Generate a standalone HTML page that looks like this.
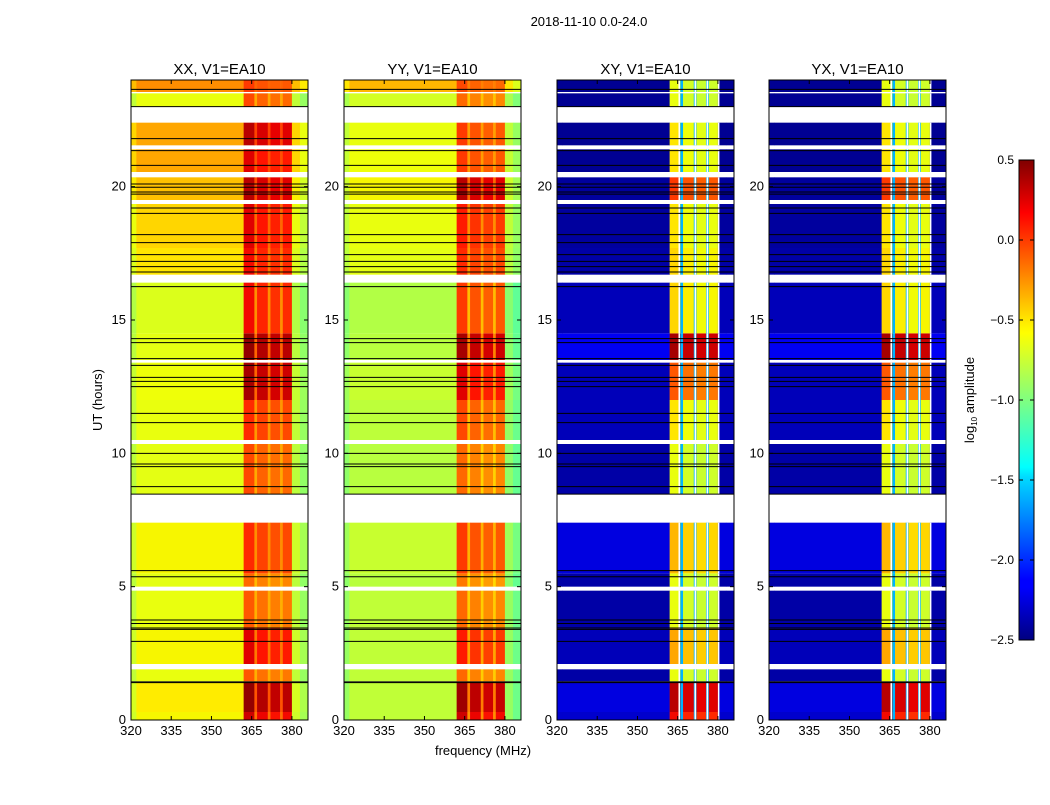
<!DOCTYPE html>
<html><head><meta charset="utf-8"><style>
body{margin:0;background:#fff;}
svg text{font-family:"Liberation Sans",sans-serif;fill:#000;}
</style></head><body>
<svg id="fig" width="1050" height="800" viewBox="0 0 1050 800" xmlns="http://www.w3.org/2000/svg">
<defs>
<linearGradient id="jet" x1="0" y1="1" x2="0" y2="0">
<stop offset="0" stop-color="#000080"/><stop offset="0.11" stop-color="#0000ff"/>
<stop offset="0.125" stop-color="#0000ff"/><stop offset="0.34" stop-color="#00dcff"/>
<stop offset="0.36" stop-color="#00ffff"/><stop offset="0.5" stop-color="#80ff80"/>
<stop offset="0.64" stop-color="#ffff00"/><stop offset="0.66" stop-color="#ffee00"/>
<stop offset="0.89" stop-color="#ff0000"/><stop offset="1" stop-color="#800000"/>
</linearGradient>
</defs>
<text x="589" y="26" font-size="13" text-anchor="middle">2018-11-10 0.0-24.0</text>
<text x="102" y="400" font-size="13" text-anchor="middle" transform="rotate(-90 102 400)">UT (hours)</text>
<text x="483" y="755" font-size="13" text-anchor="middle">frequency (MHz)</text>
<g id="panels"></g>
<g>
<rect x="1019" y="160" width="15" height="480" fill="url(#jet)" stroke="#000" stroke-width="1"/>
<g id="cbticks"></g>
<text x="974" y="400" font-size="13" text-anchor="middle" transform="rotate(-90 974 400)">log<tspan font-size="8" dy="3">10</tspan><tspan dy="-3"> amplitude</tspan></text>
</g>
</svg>
<script>
// time segments (hours) and log10 amplitude per panel
const segStart=[0,0.3,1.45,2.1,3.45,5.0,5.5,8.47,10.5,12.0,13.5,14.5,16.7,17.7,19.5,20.55,21.55,23.0,23.55];
const segEnd  =[0.3,1.43,1.9,3.43,4.85,5.5,7.4,10.35,12.0,13.4,14.5,16.4,17.7,19.35,20.35,21.4,22.4,23.5,24.0];
const xxBg  =[-0.55,-0.52,-0.6,-0.55,-0.6,-0.62,-0.55,-0.62,-0.6,-0.58,-0.62,-0.65,-0.5,-0.45,-0.38,-0.3,-0.3,-0.6,-0.22];
const xxBand=[0.3,0.45,-0.05,0.25,-0.05,-0.1,0.1,0.0,0.1,0.4,0.45,0.2,0.2,0.25,0.35,0.25,0.35,0.0,0.05];
const yyBg  =[-0.75,-0.75,-0.75,-0.75,-0.75,-0.78,-0.72,-0.78,-0.76,-0.72,-0.78,-0.8,-0.62,-0.6,-0.55,-0.58,-0.6,-0.68,-0.35];
const yyBand=[0.3,0.42,-0.1,0.15,-0.1,-0.15,0.05,-0.1,0.0,0.25,0.4,0.05,0.1,0.15,0.35,0.05,0.05,-0.1,0.0];
const xyBg  =[-2.3,-2.25,-2.4,-2.35,-2.4,-2.4,-2.25,-2.4,-2.35,-2.35,-2.2,-2.35,-2.4,-2.42,-2.42,-2.45,-2.45,-2.45,-2.45];
const xyBand=[0.2,0.35,-0.6,-0.3,-0.6,-0.6,-0.35,-0.6,-0.5,-0.05,0.4,-0.45,-0.45,-0.5,0.05,-0.5,-0.5,-0.6,-0.6];
const yxBg  =[-2.3,-2.25,-2.4,-2.35,-2.4,-2.4,-2.25,-2.4,-2.35,-2.35,-2.2,-2.35,-2.4,-2.42,-2.42,-2.45,-2.45,-2.45,-2.45];
const yxBand=[0.2,0.35,-0.6,-0.3,-0.6,-0.6,-0.35,-0.6,-0.5,-0.05,0.4,-0.45,-0.45,-0.5,0.05,-0.5,-0.5,-0.6,-0.6];
// flagged rows drawn as black lines (hours)
const blackLines=[23.65,23.0,21.8,21.35,20.8,20.1,19.98,19.8,19.72,19.2,19.0,18.2,17.9,17.45,17.2,17.0,16.8,16.25,14.3,14.15,13.55,13.3,12.85,12.7,12.5,11.5,11.15,10.0,9.6,9.5,8.75,8.47,5.6,5.37,3.75,3.62,3.45,3.4,2.95,1.43,1.4];
const xTicks=[320,335,350,365,380];
const yTicks=[0,5,10,15,20];
const cbTicks=[0.5,0.0,-0.5,-1.0,-1.5,-2.0,-2.5];
const panelTitles=["XX, V1=EA10","YY, V1=EA10","XY, V1=EA10","YX, V1=EA10"];

const NS="http://www.w3.org/2000/svg";
const panelX=[131,344,557,769], PW=177, PT=80, PB=720;
function fx(x0,f){return x0+(f-320)*PW/66;}
function ty(h){return PB-h*(PB-PT)/24;}
function interp(t,pts){for(let i=1;i<pts.length;i++){if(t<=pts[i][0]){const a=pts[i-1],b=pts[i];return a[1]+(b[1]-a[1])*(t-a[0])/(b[0]-a[0]);}}return pts[pts.length-1][1];}
function jet(v){
  let t=(v+2.5)/3; t=Math.max(0,Math.min(1,t));
  const r=interp(t,[[0,0],[0.35,0],[0.66,1],[0.89,1],[1,0.5]]);
  const g=interp(t,[[0,0],[0.125,0],[0.375,1],[0.64,1],[0.91,0],[1,0]]);
  const b=interp(t,[[0,0.5],[0.11,1],[0.34,1],[0.65,0],[1,0]]);
  const c=x=>Math.round(255*x);
  return `rgb(${c(r)},${c(g)},${c(b)})`;
}
function mk(tag,attrs,parent){const e=document.createElementNS(NS,tag);for(const k in attrs)e.setAttribute(k,attrs[k]);parent.appendChild(e);return e;}
// channel groups: [f0,f1,type,offset]
const chans=[[320,322,'edge',-0.15],[322,362,'bg',0],[362,366,'band',0],[366,367,'gap',0],[367,371,'band',-0.08],[371,372,'gap',0],[372,375.6,'band',-0.12],[375.6,376.6,'gap',0],[376.6,380,'band',-0.1],[380,383,'edge',-0.15],[383,386,'edge',-0.3]];
const bgs=[xxBg,yyBg,xyBg,yxBg], bands=[xxBand,yyBand,xyBand,yxBand];
const root=document.getElementById('panels');
for(let p=0;p<4;p++){
  const x0=panelX[p], cross=p>=2;
  const g=mk('g',{},root);
  
  
  const hm=mk('g',{},g);
  
  
  for(let s=0;s<segStart.length;s++){
    const y1=ty(segEnd[s]), y2=ty(segStart[s]);
    const bg=bgs[p][s], bd=bands[p][s];
    for(const [f0,f1,type,off] of chans){
      let v;
      if(type==='bg') v=bg;
      else if(type==='edge') v=cross?bg:bg+off;
      else if(type==='band') v=bd+off;
      else v=cross?-1.6:(bg+bd)/2;
      const r=mk('rect',{x:fx(x0,f0),y:y1,width:fx(x0,f1)-fx(x0,f0)+0.3,height:y2-y1,fill:jet(v)},hm);
      
      
    }
    if(cross){
      for(const f of [365.3,371.3,375.8,380]){
        const w=mk('rect',{x:fx(x0,f),y:y1,width:1.5,height:y2-y1,fill:'#fff'},hm);
        
        
      }
    }
  }
  for(const h of blackLines){
    const l=mk('line',{x1:x0,x2:x0+PW,y1:ty(h),y2:ty(h),stroke:'#000','stroke-width':1},g);
    
    
  }
  const fr=mk('rect',{x:x0,y:PT,width:PW,height:PB-PT,fill:'none',stroke:'#000','stroke-width':1},g);
  
  
  const t=mk('text',{x:x0+PW/2,y:PT-6,'font-size':15,'text-anchor':'middle'},g);
  t.textContent=panelTitles[p];
  
  
  for(const f of xTicks){
    const x=fx(x0,f);
    mk('line',{x1:x,x2:x,y1:PB,y2:PB-4,stroke:'#000'},g);
    mk('line',{x1:x,x2:x,y1:PT,y2:PT+4,stroke:'#000'},g);
    const tl=mk('text',{x:x,y:PB+15,'font-size':13,'text-anchor':'middle'},g);
    tl.textContent=f;
    
    
  }
  for(const h of yTicks){
    const y=ty(h);
    mk('line',{x1:x0,x2:x0+4,y1:y,y2:y,stroke:'#000'},g);
    mk('line',{x1:x0+PW,x2:x0+PW-4,y1:y,y2:y,stroke:'#000'},g);
    const tl=mk('text',{x:x0-5,y:y+4,'font-size':13,'text-anchor':'end'},g);
    tl.textContent=h;
    
    
  }
}
const cbg=document.getElementById('cbticks');
for(const v of cbTicks){
  const y=640-(v+2.5)/3*480;
  mk('line',{x1:1019,x2:1023,y1:y,y2:y,stroke:'#000'},cbg);
  mk('line',{x1:1034,x2:1030,y1:y,y2:y,stroke:'#000'},cbg);
  const tl=mk('text',{x:1014,y:y+4,'font-size':12,'text-anchor':'end'},cbg);
  tl.textContent=(v<0?'\u2212':'')+Math.abs(v).toFixed(1);
  
  
}
</script>
</body></html>
